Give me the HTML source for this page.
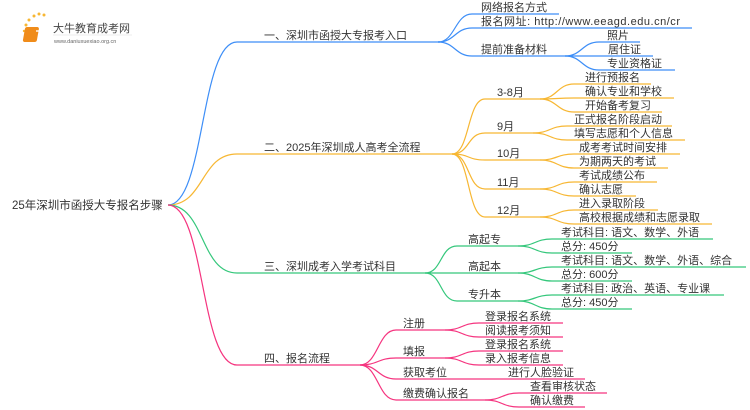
<!DOCTYPE html>
<html><head><meta charset="utf-8"><style>
html,body{margin:0;padding:0;background:#fff;}
svg{display:block;}
text{font-family:"Liberation Sans","Noto Sans CJK SC",sans-serif;font-size:11px;fill:#333;}
</style></head><body>
<svg width="750" height="410" viewBox="0 0 750 410" xmlns="http://www.w3.org/2000/svg">
<!-- logo -->
<g>
<circle cx="26" cy="25" r="1.5" fill="#f7b733"/><circle cx="29" cy="20" r="1.5" fill="#f7b733"/><circle cx="34" cy="16" r="1.5" fill="#f7b733"/><circle cx="39" cy="14" r="1.5" fill="#f7b733"/><circle cx="44" cy="15" r="1.5" fill="#f7b733"/><circle cx="24" cy="31" r="1.2" fill="#f7b733"/><circle cx="25" cy="37" r="1.2" fill="#f7b733"/>
<rect x="30" y="27" width="14" height="15" rx="2" fill="#f08c1a" transform="skewX(-10)"/>
<rect x="36" y="30" width="8" height="2" fill="#fff" opacity=".7"/>
<text x="53" y="32" style="font-size:11px;fill:#444">大牛教育成考网</text>
<line x1="53" y1="35" x2="132" y2="35" stroke="#ddd" stroke-width="0.6"/>
<text x="54" y="43" style="font-size:5.5px;fill:#666">www.daniuxuexiao.org.cn</text>
</g>
<g fill="none" stroke-width="1.2">
<path d="M168 205 C205 205,200 42,237 42 L440 42" stroke="#3d8ef7"/>
<path d="M168 205 C205 205,200 154,237 154 L452 154" stroke="#f7b733"/>
<path d="M168 205 C205 205,200 273,237 273 L425 273" stroke="#34c77b"/>
<path d="M168 205 C205 205,200 365,237 365 L360 365" stroke="#f5347f"/>
<g stroke="#3d8ef7">
<path d="M438 42 C455 42,455 14,472 14 L559 14"/>
<path d="M438 42 C455 42,455 28,472 28 L692 28"/>
<path d="M438 42 C455 42,455 56,472 56 L565 56"/>
<path d="M565 56 C582 56,582 42,599 42 L640 42"/>
<path d="M565 56 C582 56,582 56,599 56 L653 56"/>
<path d="M565 56 C582 56,582 70,599 70 L675 70"/>
</g>
<g stroke="#f7b733">
<path d="M452 154 C470 154,467 99,485 99 L540 99"/>
<path d="M452 154 C470 154,467 133,485 133 L533 133"/>
<path d="M452 154 C470 154,467 160,485 160 L540 160"/>
<path d="M452 154 C470 154,467 189,485 189 L540 189"/>
<path d="M452 154 C470 154,467 217,485 217 L540 217"/>
<path d="M540 99 C557 99,557 84,574 84 L651 84"/>
<path d="M540 99 C557 99,557 98,574 98 L674 98"/>
<path d="M540 99 C557 99,557 112,574 112 L662 112"/>
<path d="M533 133 C550 133,550 126,567 126 L672 126"/>
<path d="M533 133 C550 133,550 140,567 140 L685 140"/>
<path d="M540 160 C557 160,557 154,574 154 L680 154"/>
<path d="M540 160 C557 160,557 168,574 168 L668 168"/>
<path d="M540 189 C557 189,557 182,574 182 L657 182"/>
<path d="M540 189 C557 189,557 196,574 196 L636 196"/>
<path d="M540 217 C557 217,557 210,574 210 L658 210"/>
<path d="M540 217 C557 217,557 224,574 224 L712 224"/>
</g>
<g stroke="#34c77b">
<path d="M425 273 C442 273,440 246,457 246 L518 246"/>
<path d="M425 273 C442 273,440 273,457 273 L518 273"/>
<path d="M425 273 C442 273,440 301,457 301 L518 301"/>
<path d="M518 246 C535 246,535 239,552 239 L713 239"/>
<path d="M518 246 C535 246,535 253,552 253 L632 253"/>
<path d="M518 273 C535 273,535 267,552 267 L746 267"/>
<path d="M518 273 C535 273,535 281,552 281 L632 281"/>
<path d="M518 301 C535 301,535 295,552 295 L724 295"/>
<path d="M518 301 C535 301,535 309,552 309 L632 309"/>
</g>
<g stroke="#f5347f">
<path d="M360 365 C378 365,378 330,396 330 L445 330"/>
<path d="M360 365 C378 365,378 358,396 358 L445 358"/>
<path d="M360 365 C378 365,378 379,396 379 L585 379"/>
<path d="M360 365 C378 365,378 400,396 400 L485 400"/>
<path d="M445 330 C462 330,462 323,479 323 L563 323"/>
<path d="M445 330 C462 330,462 337,479 337 L563 337"/>
<path d="M445 358 C462 358,462 351,479 351 L563 351"/>
<path d="M445 358 C462 358,462 365,479 365 L563 365"/>
<path d="M485 400 C502 400,502 393,519 393 L607 393"/>
<path d="M485 400 C502 400,502 407,519 407 L585 407"/>
</g>
</g>
<text x="12" y="209" style="font-size:11.5px">25年深圳市函授大专报名步骤</text>
<text x="264" y="39">一、深圳市函授大专报考入口</text>
<text x="264" y="151">二、2025年深圳成人高考全流程</text>
<text x="264" y="270">三、深圳成考入学考试科目</text>
<text x="264" y="362">四、报名流程</text>

<text x="481" y="11">网络报名方式</text>
<text x="481" y="25" textLength="199" lengthAdjust="spacing">报名网址: http://www.eeagd.edu.cn/cr</text>
<text x="481" y="53">提前准备材料</text>
<text x="607" y="39">照片</text>
<text x="608" y="53">居住证</text>
<text x="607" y="67">专业资格证</text>

<text x="497" y="96">3-8月</text>
<text x="497" y="130">9月</text>
<text x="497" y="157">10月</text>
<text x="497" y="186">11月</text>
<text x="497" y="214">12月</text>
<text x="585" y="81">进行预报名</text>
<text x="585" y="95">确认专业和学校</text>
<text x="585" y="109">开始备考复习</text>
<text x="574" y="123">正式报名阶段启动</text>
<text x="574" y="137">填写志愿和个人信息</text>
<text x="579" y="151">成考考试时间安排</text>
<text x="579" y="165">为期两天的考试</text>
<text x="579" y="179">考试成绩公布</text>
<text x="579" y="193">确认志愿</text>
<text x="579" y="207">进入录取阶段</text>
<text x="579" y="221">高校根据成绩和志愿录取</text>

<text x="468" y="243">高起专</text>
<text x="468" y="270">高起本</text>
<text x="468" y="298">专升本</text>
<text x="561" y="236">考试科目: 语文、数学、外语</text>
<text x="561" y="250">总分: 450分</text>
<text x="561" y="264">考试科目: 语文、数学、外语、综合</text>
<text x="561" y="278">总分: 600分</text>
<text x="561" y="292">考试科目: 政治、英语、专业课</text>
<text x="561" y="306">总分: 450分</text>

<text x="403" y="327">注册</text>
<text x="403" y="355">填报</text>
<text x="403" y="376">获取考位</text>
<text x="403" y="397">缴费确认报名</text>
<text x="485" y="320">登录报名系统</text>
<text x="485" y="334">阅读报考须知</text>
<text x="485" y="348">登录报名系统</text>
<text x="485" y="362">录入报考信息</text>
<text x="508" y="376">进行人脸验证</text>
<text x="530" y="390">查看审核状态</text>
<text x="530" y="404">确认缴费</text>
</svg>
</body></html>
